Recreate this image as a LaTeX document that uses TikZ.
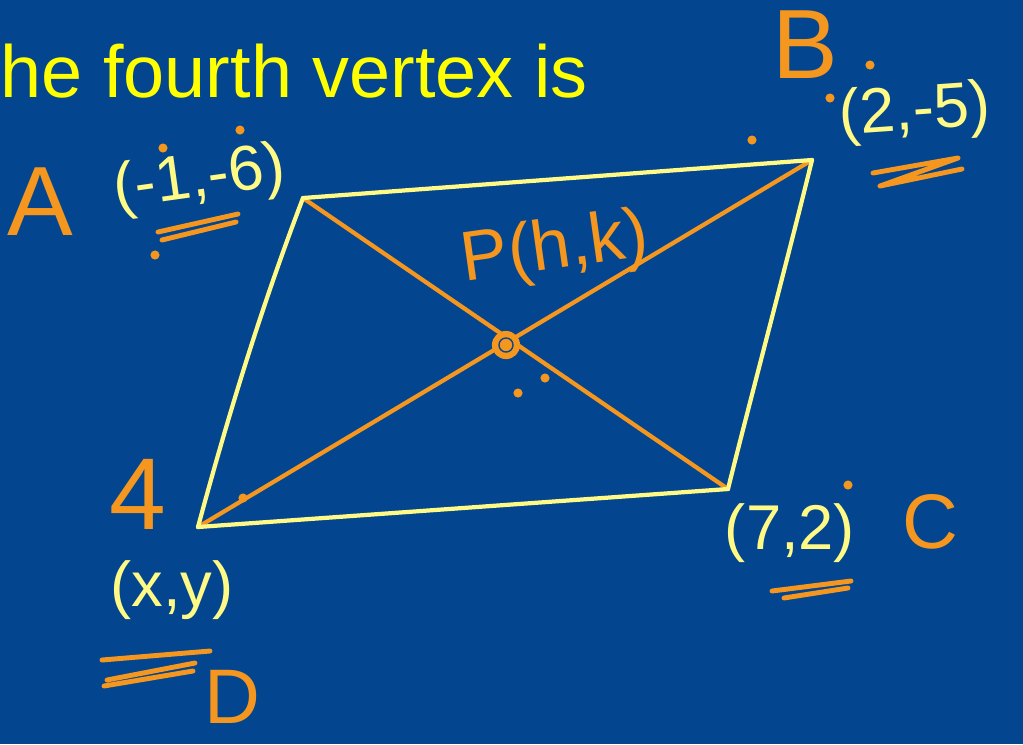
\documentclass[tikz,border=0pt]{standalone}
\usepackage{fontspec}
\setmainfont{Liberation Sans}
\definecolor{board}{HTML}{03468F}
\definecolor{headline}{HTML}{FFFF00}
\definecolor{chalk}{HTML}{FFF985}
\definecolor{marker}{HTML}{F5961F}

\begin{document}
\begin{tikzpicture}[x=0.01cm,y=-0.01cm,line cap=round,line join=round,
  side/.style={chalk,line width=1.2pt},
  diag/.style={marker,line width=1.2pt},
  uline/.style={marker,line width=1.4pt},
  pt/.style={chalk,inner sep=0pt,font=\fontsize{18}{18}\selectfont},
  tag/.style={marker,inner sep=0pt,font=\fontsize{27}{27}\selectfont}]
\fill[board] (0,0) rectangle (1023,744);
\node[headline,anchor=base west,inner sep=0pt,font=\fontsize{21}{21}\selectfont] (head) at (0,97) {he fourth vertex is};
% vertices and centre
\coordinate (A) at (303,198);
\coordinate (B) at (812,160);
\coordinate (C) at (728,489);
\coordinate (D) at (198,527);
\coordinate (P) at (506,345);
% diagonals
\draw[diag] (A) -- (C);
\draw[diag] (B) -- (D);
% sides
\draw[side] (A) -- (B);
\draw[side] (B) .. controls (790,250) and (745,420) .. (C);
\draw[side] (D) .. controls (235,390) and (268,290) .. (A);
\draw[side] (D) -- (C);
\fill[marker] (P) circle (4pt);
\draw[board,line width=0.4pt] (P) circle (2pt);
% labels
\node[tag,font=\fontsize{28}{28}\selectfont] (lA) at (40,202) {A};
\node[pt,rotate=8] (cA) at (200,180) {(-1,-6)};
\node[tag,font=\fontsize{28}{28}\selectfont] (lB) at (805,45) {B};
\node[pt,rotate=4] (cB) at (915,113) {(2,-5)};
\node[tag,font=\fontsize{20}{20}\selectfont,rotate=8] (lP) at (555,250) {P(h,k)};
\node[tag,font=\fontsize{29}{29}\selectfont] (l4) at (138,494) {4};
\node[pt] (cD) at (172,590) {(x,y)};
\node[tag,font=\fontsize{22}{22}\selectfont] (lD) at (232,697) {D};
\node[pt] (cC) at (790,533) {(7,2)};
\node[tag,font=\fontsize{22}{22}\selectfont] (lC) at (930,522) {C};
% underlines
\draw[uline] (158,232) -- (238,214) (162,240) -- (236,222);
\draw[uline] (873,173) -- (958,158) -- (880,186) -- (962,169);
\draw[uline] (102,660) -- (210,651) (107,680) -- (195,663) (104,686) -- (193,671);
\draw[uline] (772,591) -- (851,581) (784,598) -- (848,588);
% stray dots
\foreach \d in {(163,148),(240,130),(155,255),(545,378),(518,393),(752,140),(870,65),(830,98),(848,485),(243,498)}
  \fill[marker] \d circle (1.3pt);
\end{tikzpicture}
\end{document}
